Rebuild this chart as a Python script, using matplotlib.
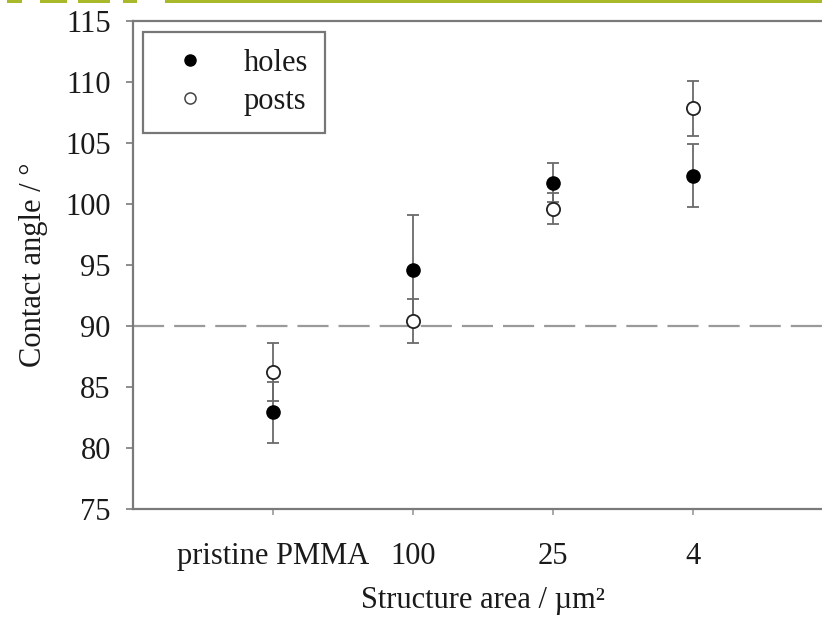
import matplotlib
matplotlib.use("Agg")
import matplotlib.pyplot as plt
from matplotlib.lines import Line2D
from matplotlib.patches import Rectangle

# Contact angle vs. structure area
categories = ["pristine PMMA", "100", "25", "4"]
holes_mean = [82.9, 94.6, 101.7, 102.3]
holes_err = [2.5, 4.45, 1.6, 2.6]
posts_mean = [86.2, 90.4, 99.6, 107.8]
posts_err = [2.4, 1.8, 1.3, 2.25]
y_ticks = [75, 80, 85, 90, 95, 100, 105, 110, 115]
reference_angle = 90

plt.rcParams["font.family"] = ["Liberation Serif", "DejaVu Serif"]
FS = 22

fig = plt.figure(figsize=(8.22, 6.22), dpi=100)
ax = fig.add_axes([133 / 822, 1 - 508.7 / 622, 700 / 822, 488.1 / 622])

x = list(range(1, len(categories) + 1))
err_color = "#6a6a6a"

ax.axhline(reference_angle, color="#9a9a9a", lw=1.6, dashes=(14, 4.5), zorder=1)

ax.errorbar(x, holes_mean, yerr=holes_err, fmt="o", ms=9.5, mfc="black", mec="black",
            ecolor=err_color, elinewidth=1.3, capsize=4.5, capthick=1.3, zorder=3)
ax.errorbar(x, posts_mean, yerr=posts_err, fmt="o", ms=9.5, mfc="white", mec="#222222",
            mew=1.3, ecolor=err_color, elinewidth=1.3, capsize=4.5, capthick=1.3, zorder=4)

ax.set_xlim(0, 5)
ax.set_ylim(75, 115)
ax.set_yticks(y_ticks)
ax.set_xticks(x)
ax.set_xticklabels(categories)

for side in ("left", "bottom", "top", "right"):
    ax.spines[side].set_color("#7a7a7a")
    ax.spines[side].set_linewidth(1.6)

ax.tick_params(axis="y", direction="out", length=5, width=1.2, color="#7a7a7a",
               labelsize=FS, pad=11, labelcolor="#1a1a1a")
ax.tick_params(axis="x", direction="out", length=4, width=1.2, color="#9a9a9a",
               labelsize=FS, pad=20, labelcolor="#1a1a1a")

ax.set_ylabel("Contact angle / °", fontsize=FS, color="#1a1a1a", labelpad=12)
ax.set_xlabel("Structure area / µm²", fontsize=FS, color="#1a1a1a", labelpad=11)

handles = [
    Line2D([], [], ls="none", marker="o", ms=8, mfc="black", mec="black"),
    Line2D([], [], ls="none", marker="o", ms=8, mfc="white", mec="#444444", mew=1.1),
]
leg = ax.legend(handles, ["holes", "posts"], loc="upper left",
                bbox_to_anchor=(10 / 700, (508.7 - 32) / 488.1), borderaxespad=0,
                fontsize=FS, frameon=True, fancybox=False, handlelength=2.0,
                handletextpad=0.75, borderpad=0.55, labelspacing=0.3)
frame = leg.get_frame()
frame.set_edgecolor("#555555")
frame.set_linewidth(1.6)
for t in leg.get_texts():
    t.set_color("#1a1a1a")

# page decoration along the top edge
green = "#a9b92a"
for x0, x1 in [(7, 22), (40, 67), (78, 110), (123, 137), (165, 822)]:
    fig.patches.append(Rectangle((x0 / 822, 1 - 2.5 / 622), (x1 - x0) / 822, 2.5 / 622,
                                 transform=fig.transFigure, color=green, lw=0))

fig.savefig("out.png", dpi=100)
